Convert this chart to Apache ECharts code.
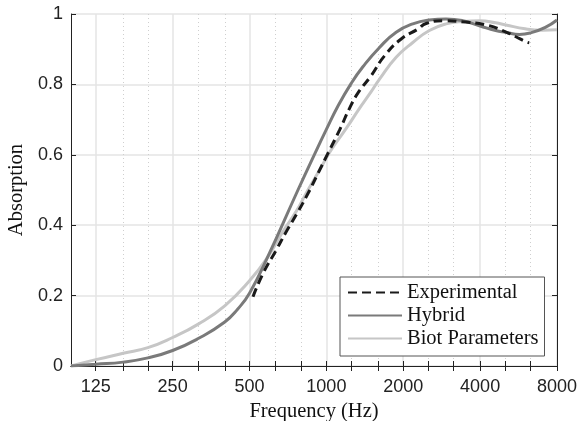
<!DOCTYPE html>
<html>
<head>
<meta charset="utf-8">
<script src="https://cdn.jsdelivr.net/npm/echarts@6/dist/echarts.min.js"></script>
<style>
html,body{margin:0;padding:0;background:#fff;}
#chart{width:581px;height:421px;}
</style>
</head>
<body>
<div id="chart"></div>
<script>
// ---- data ----
const majorTicks = [125, 250, 500, 1000, 2000, 4000, 8000];
const minorTicks = [160, 200, 315, 400, 630, 800, 1250, 1600, 2500, 3150, 5000, 6300];
const yTicks = [0, 0.2, 0.4, 0.6, 0.8, 1];

const freqExp = [516,565,637,697,774,847,927,1014,1126,1232,1328,1498,1689,1963,2280,2458,2898,3368,4218,5077,5500,6046,6230];
const experimental = [0.197,0.263,0.33,0.382,0.438,0.49,0.547,0.604,0.67,0.732,0.775,0.825,0.881,0.929,0.957,0.973,0.981,0.978,0.969,0.948,0.936,0.921,0.918];

const freqHybrid = [100,125,160,200,250,315,400,450,500,585,774,913,1000,1109,1251,1390,1615,1876,2180,2531,2943,3418,4000,4600,5040,5700,6350,7200,8000];
const hybrid = [0,0.005,0.011,0.023,0.044,0.078,0.125,0.162,0.207,0.305,0.50,0.612,0.672,0.738,0.803,0.850,0.905,0.948,0.972,0.983,0.986,0.981,0.966,0.953,0.948,0.942,0.947,0.962,0.983];

const freqBiot = [100,125,160,200,250,315,400,500,590,676,763,847,955,1029,1196,1348,1500,1615,1876,2180,2531,2943,3418,4000,4600,5040,6000,7000,8000];
const biot = [0,0.018,0.036,0.052,0.081,0.119,0.171,0.242,0.31,0.382,0.44,0.50,0.565,0.607,0.675,0.732,0.78,0.815,0.877,0.919,0.953,0.972,0.979,0.981,0.975,0.969,0.958,0.954,0.955];

const seriesNames = ['Experimental', 'Hybrid', 'Biot Parameters'];

// ---- chart ----
const pair = (xs, ys) => xs.map((x, i) => [x, ys[i]]);
const sansFont = 'Liberation Sans';
const serifFont = 'Liberation Serif';
const axisColor = '#222';

const chart = echarts.init(document.getElementById('chart'), null, {renderer: 'canvas'});

const baseX = {
  type: 'log', logBase: 2, min: 100, max: 8000,
  axisLine: {show: true, lineStyle: {color: axisColor, width: 1}},
};

chart.setOption({
  animation: false,
  backgroundColor: '#fff',
  grid: {left: 71, right: 24, top: 14, bottom: 55, containLabel: false, outerBoundsMode: 'none'},
  xAxis: [
    Object.assign({}, baseX, {
      position: 'bottom',
      name: 'Frequency (Hz)', nameLocation: 'middle', nameGap: 31,
      nameTextStyle: {fontFamily: serifFont, fontSize: 20.5, color: '#111'},
      axisTick: {show: true, inside: true, length: 5, customValues: majorTicks, lineStyle: {color: axisColor}},
      axisLabel: {show: true, customValues: majorTicks, formatter: v => String(Math.round(v)), fontFamily: sansFont, fontSize: 18, color: '#222', margin: 12},
      splitLine: {show: true, lineStyle: {color: '#e4e4e4', width: 1.5}},
    }),
    Object.assign({}, baseX, {
      position: 'top',
      axisTick: {show: true, inside: true, length: 5, customValues: majorTicks.concat(minorTicks), lineStyle: {color: axisColor}},
      axisLabel: {show: false},
      splitLine: {show: false},
    }),
    Object.assign({}, baseX, {
      position: 'bottom',
      axisLine: {show: false},
      axisTick: {show: true, inside: true, length: 5, customValues: minorTicks, lineStyle: {color: axisColor}},
      axisLabel: {show: false},
      splitLine: {show: true, lineStyle: {color: '#cfcfcf', width: 1, type: [1, 3]}},
    }),
  ],
  yAxis: [
    {
      type: 'value', min: 0, max: 1, interval: 0.2, position: 'left',
      name: 'Absorption', nameLocation: 'middle', nameGap: 38, nameRotate: 90,
      nameTextStyle: {fontFamily: serifFont, fontSize: 20.5, color: '#111'},
      axisLine: {show: true, lineStyle: {color: axisColor, width: 1}},
      axisTick: {show: true, inside: true, length: 5, lineStyle: {color: axisColor}},
      axisLabel: {show: true, formatter: v => String(+v.toFixed(1)), fontFamily: sansFont, fontSize: 18, color: '#222', margin: 8},
      splitLine: {show: true, lineStyle: {color: '#e4e4e4', width: 1.5}},
    },
    {
      type: 'value', min: 0, max: 1, interval: 0.2, position: 'right',
      axisLine: {show: true, lineStyle: {color: axisColor, width: 1}},
      axisTick: {show: true, inside: true, length: 5, lineStyle: {color: axisColor}},
      axisLabel: {show: false},
      splitLine: {show: false},
    }
  ],
  legend: {
    orient: 'vertical', left: 340, top: 277,
    data: seriesNames,
    itemWidth: 54, itemHeight: 14, itemGap: 2,
    padding: [5, 6, 7, 7],
    backgroundColor: '#fff', borderColor: '#555', borderWidth: 1, borderRadius: 0,
    itemStyle: {color: 'rgba(0,0,0,0)', borderColor: 'rgba(0,0,0,0)', borderWidth: 0, opacity: 0},
    textStyle: {fontFamily: serifFont, fontSize: 20.5, lineHeight: 16, color: '#111'},
    selectedMode: false,
  },
  series: [
    {
      name: seriesNames[0], type: 'line', xAxisIndex: 0, yAxisIndex: 0,
      data: pair(freqExp, experimental), smooth: 0.5, symbol: 'none', z: 5,
      lineStyle: {color: '#1a1a1a', width: 3, type: [9, 5]},
      itemStyle: {color: '#1a1a1a'},
    },
    {
      name: seriesNames[1], type: 'line', xAxisIndex: 0, yAxisIndex: 0,
      data: pair(freqHybrid, hybrid), smooth: 0.5, symbol: 'none', z: 4,
      lineStyle: {color: '#7a7a7a', width: 3},
      itemStyle: {color: '#7a7a7a'},
    },
    {
      name: seriesNames[2], type: 'line', xAxisIndex: 0, yAxisIndex: 0,
      data: pair(freqBiot, biot), smooth: 0.5, symbol: 'none', z: 3,
      lineStyle: {color: '#c6c6c6', width: 3},
      itemStyle: {color: '#c6c6c6'},
    },
  ],
});
</script>
</body>
</html>
